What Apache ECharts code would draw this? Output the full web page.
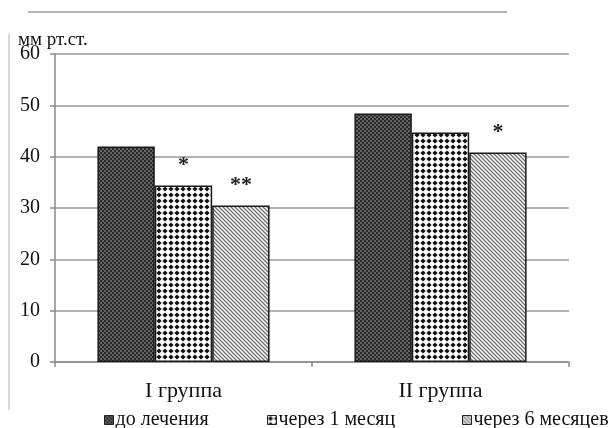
<!DOCTYPE html>
<html>
<head>
<meta charset="utf-8">
<script src="https://cdn.jsdelivr.net/npm/echarts@6/dist/echarts.min.js"></script>
<style>
html,body{margin:0;padding:0;background:#fff}
#chart{width:612px;height:428px}
</style>
</head>
<body>
<div id="chart"></div>
<script>
// данные
var groups = ['I группа', 'II группа']
var names = ['до лечения', 'через 1 месяц', 'через 6 месяцев']
var before = [42, 48.4]
var month1 = [34.4, 44.7]
var month6 = [30.5, 40.8]
var stars1 = ['', '']
var stars2 = ['*', '']
var stars3 = ['**', '*']
var yTicks = [0, 10, 20, 30, 40, 50, 60]

// штриховки
function tile(w, h, draw) {
    var c = document.createElement('canvas')
    c.width = w; c.height = h
    var ctx = c.getContext('2d')
    draw(ctx)
    return {image: c, repeat: 'repeat'}
}
var pat1 = tile(4, 4, function (ctx) {
    ctx.fillStyle = '#646464'; ctx.fillRect(0, 0, 4, 4)
    ctx.fillStyle = '#2a2a2a'
    ctx.fillRect(0, 0, 2, 2); ctx.fillRect(2, 2, 2, 2)
})
var pat2 = tile(6, 6, function (ctx) {
    ctx.fillStyle = '#fff'; ctx.fillRect(0, 0, 6, 6)
    ctx.fillStyle = '#111'
    ctx.beginPath()
    ctx.moveTo(3, 0.4); ctx.lineTo(5.6, 3); ctx.lineTo(3, 5.6); ctx.lineTo(0.4, 3)
    ctx.closePath(); ctx.fill()
})
var pat3 = tile(4, 4, function (ctx) {
    ctx.fillStyle = '#fff'; ctx.fillRect(0, 0, 4, 4)
    ctx.strokeStyle = '#6e6e6e'; ctx.lineWidth = 1.3
    ctx.beginPath()
    ctx.moveTo(-1, -1); ctx.lineTo(5, 5)
    ctx.moveTo(-3, 1); ctx.lineTo(3, 7)
    ctx.moveTo(1, -3); ctx.lineTo(7, 3)
    ctx.stroke()
})

function bar(name, data, stars, pat) {
    return {
        name: name,
        type: 'bar',
        barGap: 0,
        barCategoryGap: '33%',
        data: data,
        itemStyle: {color: pat, borderColor: '#1a1a1a', borderWidth: 1.5},
        label: {
            show: true, position: 'top', distance: 9,
            fontFamily: 'Liberation Serif', fontSize: 22, fontWeight: 'bold', color: '#222',
            formatter: function (p) { return stars[p.dataIndex] }
        }
    }
}

function leg(name, left) {
    return {
        data: [name], left: left, top: 405, itemWidth: 9, itemHeight: 9, itemGap: 0,
        icon: 'rect', selectedMode: false,
        itemStyle: {borderColor: '#222', borderWidth: 1},
        textStyle: {fontFamily: 'Liberation Serif', fontSize: 20, color: '#111', padding: [0, 0, 0, -3]}
    }
}

var chart = echarts.init(document.getElementById('chart'))
chart.setOption({
    animation: false,
    backgroundColor: '#fff',
    title: {
        text: 'мм рт.ст.', left: 13, top: 26,
        textStyle: {fontFamily: 'Liberation Serif', fontSize: 19, fontWeight: 'normal', color: '#111'}
    },
    legend: [leg(names[0], 99), leg(names[1], 262), leg(names[2], 457)],
    grid: {left: 55, right: 43, top: 54, bottom: 66, containLabel: false},
    xAxis: {
        type: 'category',
        data: groups,
        axisLine: {lineStyle: {color: '#8a8a8a', width: 1.5}},
        axisTick: {show: true, length: 5, lineStyle: {color: '#8a8a8a', width: 1.5}},
        axisLabel: {fontFamily: 'Liberation Serif', fontSize: 22, color: '#111', margin: 18}
    },
    yAxis: {
        type: 'value', min: yTicks[0], max: yTicks[yTicks.length - 1], interval: 10,
        axisLine: {show: true, lineStyle: {color: '#8a8a8a', width: 1.5}},
        axisTick: {show: true, length: 5, lineStyle: {color: '#8a8a8a', width: 1.5}},
        splitLine: {lineStyle: {color: '#999', width: 1.5}},
        axisLabel: {fontFamily: 'Liberation Serif', fontSize: 20, color: '#111', margin: 15}
    },
    graphic: [
        {type: 'line', shape: {x1: 28, y1: 12, x2: 507, y2: 12}, style: {stroke: '#9a9a9a', lineWidth: 1.5}},
        {type: 'line', shape: {x1: 9, y1: 34, x2: 9, y2: 410}, style: {stroke: '#b0b0b0', lineWidth: 1}}
    ],
    series: [
        bar(names[0], before, stars1, pat1),
        bar(names[1], month1, stars2, pat2),
        bar(names[2], month6, stars3, pat3)
    ]
}, true)
</script>
</body>
</html>
